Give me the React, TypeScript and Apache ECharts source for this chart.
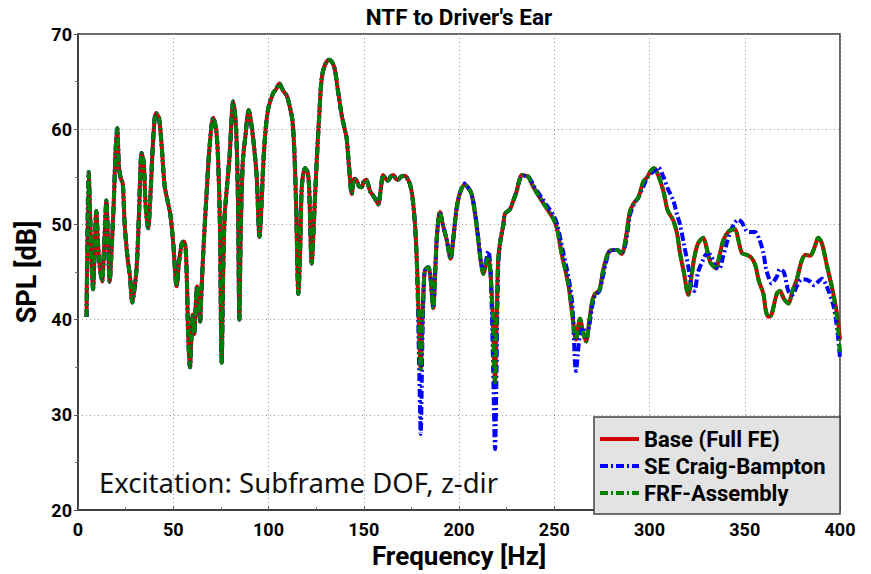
import React, { useEffect, useRef } from "react";
import * as echarts from "echarts";

// Frequency axis samples [Hz]
const freqHz = [
  4.5, 5.6, 6.5, 7.3, 7.9, 8.7, 9.6, 10.5, 11.2, 12.6,
  13.8, 14.9, 15.8, 16.6, 17.8, 18.8, 19.8, 20.6, 21.5, 22.5,
  23.5, 24.5, 26, 27.3, 28.5, 29.5, 30.8, 32, 33.4, 34.5,
  35.5, 36.8, 38, 39.5, 40.9, 42.5, 44, 45.5, 47, 48.5,
  50, 51.8, 53, 54.5, 55.5, 56.5, 57.3, 57.8, 58.8, 59.5,
  60.2, 61, 61.8, 62.5, 63.3, 64.1, 64.8, 66, 67.5, 69,
  71, 72.5, 73.5, 74.5, 75.4, 76.3, 77, 78, 79.5, 81.5,
  83, 84, 84.7, 85.4, 86.5, 88, 89.6, 91, 92.5, 93.8,
  95.3, 96.3, 97.3, 98.5, 100, 102.5, 104, 105.7, 107, 108.5,
  109.5, 111, 112.5, 113.5, 114.5, 115.7, 116.7, 117.5, 119.2, 120.5,
  121.3, 122.7, 124, 125.3, 126.5, 127.9, 129.5, 131.9, 133.5, 134.8,
  136.5, 138.4, 140, 141, 142.3, 143.7, 145, 146.3, 147.5, 148.9,
  150, 151.2, 152.3, 153.3, 155, 156.5, 157.6, 158.8, 160.2, 161.5,
  162.8, 164, 165.5, 166.8, 168.1, 169.5, 171.6, 173, 174.3, 175.5,
  // tail
  176.9, 178, 179.2, 179.9, 180.8, 181.6, 182.2, 183.9, 185, 186.5,
  187.5, 188.5, 190, 191.5, 193.5, 195.6, 197, 198.7, 200.5, 203.1,
  205, 206.6, 208.5, 210.1, 211.5, 212.8, 214, 215.4, 216.5, 217.8,
  218.9, 219.8, 220.5, 221.5, 223.3, 224.1, 226.8, 228.5, 230.3, 231.5,
  232.9, 235, 236.4, 238.1, 240, 243.4, 246, 249.5, 251.5, 253.9,
  257.4, 259.5, 261.4, 263.5, 265.3, 266.7, 268.5, 270, 271.4, 273.7,
  275.5, 277.5, 279, 281, 283, 285.4, 287.5, 289.8, 292, 294.1,
  296.8, 299, 300.5, 302.4, 304.5, 307.3, 309.5, 312.5, 314.5, 316,
  318, 320.4, 322, 323.5, 325.5, 328.2, 330, 332, 334.9, 336.5,
  338.5, 340.5, 342.5, 344.9, 346.5, 348.5, 351, 353, 355.4, 357.5,
  359.8, 361, 362.4, 364, 366.8, 368.5, 370.5, 372.9, 375, 377.3,
  379.9, 382, 384.3, 386.5, 388.6, 390.5, 393, 396.5, 398.5, 400,
];

// SPL [dB] where all three models coincide (4.5 – 175.5 Hz)
const splShared = [
  40.3, 55.5, 50, 45, 43.2, 47, 51.4, 48, 46, 44,
  48, 52.5, 48, 44, 48, 52.5, 58, 60.1, 56, 54.8,
  54.3, 50, 46.5, 44.5, 41.8, 43, 45.5, 51, 57.5, 56.5,
  52, 49.6, 53, 59, 61.7, 61.2, 58, 54, 52.5, 51,
  48, 43.5, 46, 48, 48.2, 47.5, 43, 38.5, 35, 38,
  40.5, 38.5, 41.5, 43.5, 42, 39.8, 43, 48, 53.2, 58,
  61.2, 60, 57, 50, 35.5, 46, 51, 53.5, 57, 62.9,
  60, 52, 40, 49, 56.5, 59.5, 62, 60.5, 58, 55,
  48.7, 52, 56.5, 60, 62.3, 63.8, 64.2, 64.8, 64.3, 63.8,
  63.6, 62.5, 61, 58, 52, 42.7, 48, 54, 55.9, 55.5,
  54, 45.9, 51, 56.6, 61, 65.3, 66.7, 67.3, 67, 66.3,
  64, 61.5, 60, 59.1, 56, 53.2, 54.8, 54.6, 54, 53.9,
  54.5, 54.7, 54.2, 53.5, 53, 52.5, 52.1, 53.5, 55.2, 54.8,
  54.6, 55, 55.2, 54.8, 54.7, 55, 55.1, 54.8, 54.2, 53,
];

// Base (Full FE), 176.9 – 400 Hz
const splBaseTail = [
  50, 45.5, 38, 34.8, 40, 44, 45.2, 45.5, 44.5, 41.2,
  45, 49, 51.3, 50, 48.4, 46.4, 48.5, 51.6, 53.3, 54.2,
  53.8, 53.2, 51, 48.4, 46, 44.8, 45.6, 46.6, 45, 40,
  33.4, 40, 46, 48, 50, 51.1, 51.6, 52.5, 53.5, 54.5,
  55.2, 55.1, 55, 54.3, 53.6, 52.5, 51.7, 50.6, 49.5, 46.9,
  43.7, 40.5, 37.9, 40.1, 38.5, 37.7, 40, 42, 42.7, 43.1,
  45, 46.6, 47.2, 47.3, 47.3, 46.9, 48.5, 51.4, 52.3, 52.8,
  54.5, 55, 55.6, 55.9, 55.2, 53.5, 51.5, 50.4, 49, 47,
  45, 42.6, 44.5, 46.5, 48, 48.6, 47.5, 46, 45.4, 46.5,
  48.2, 49, 49.4, 49.5, 48.5, 47, 46.8, 46.6, 45.8, 44,
  42.7, 41, 40.3, 40.5, 42.7, 43, 42.2, 41.7, 43, 44.2,
  46.2, 46.8, 46.7, 47.5, 48.6, 48, 45.8, 42.7, 40.5, 37.9,
];

// SE Craig-Bampton, 176.9 – 400 Hz
const splSETail = [
  50, 45, 34, 28, 38, 44, 45.2, 45.5, 44.5, 41.2,
  45, 49, 51.3, 50, 48.4, 46.4, 48.5, 51.6, 53.3, 54.3,
  53.8, 53.2, 51.2, 48.6, 46.2, 45, 46, 47.2, 45.5, 36,
  26.4, 36, 45, 48, 50, 51.1, 51.6, 52.5, 53.5, 54.5,
  55, 55.1, 55, 54.5, 53.8, 52.8, 52, 51, 50, 47.8,
  44.5, 41.5, 34.6, 38.5, 39.2, 38.2, 39.5, 41.5, 42.5, 43,
  44.5, 46.3, 47.2, 47.3, 47.3, 47, 48, 51, 52.2, 52.8,
  54, 55, 55.3, 55.6, 56, 55, 53.8, 52.5, 51, 50,
  48, 45.5, 43.5, 43, 45, 46.3, 46.9, 46.8, 45.5, 45.3,
  46.5, 48, 49.3, 50.2, 50.5, 50.2, 49.3, 49.2, 49.2, 48.5,
  47, 45.5, 44.5, 43.8, 44.5, 45.3, 45, 43, 42.6, 43.5,
  44.2, 44.2, 44, 43.6, 44, 44.3, 43.5, 41.5, 39, 36,
];

// FRF-Assembly, 176.9 – 400 Hz
const splFRFTail = [
  50, 45.5, 38, 34.8, 40, 44, 45.2, 45.5, 44.5, 41.2,
  45, 49, 51.3, 50, 48.4, 46.4, 48.5, 51.6, 53.3, 54.2,
  53.8, 53.2, 51, 48.4, 46, 44.8, 45.6, 46.6, 45, 40,
  33.4, 40, 46, 48, 50, 51.1, 51.6, 52.5, 53.5, 54.5,
  55.2, 55.1, 55, 54.3, 53.6, 52.5, 51.7, 50.6, 49.5, 46.9,
  43.7, 40.5, 37.9, 40.1, 38.5, 37.7, 40, 42, 42.7, 43.1,
  45, 46.6, 47.2, 47.3, 47.3, 46.9, 48.5, 51.4, 52.3, 52.8,
  54.5, 55, 55.6, 55.9, 55.2, 53.5, 51.5, 50.4, 49, 47,
  45, 42.6, 44.5, 46.5, 48, 48.6, 47.5, 46, 45.4, 46.5,
  48.2, 49, 49.4, 49.5, 48.5, 47, 46.8, 46.6, 45.8, 44,
  42.7, 41, 40.3, 40.5, 42.7, 43, 42.2, 41.7, 43, 44.2,
  46.2, 46.8, 46.7, 47.5, 48.6, 48, 45.8, 42.7, 40, 36.5,
];

const seriesNames = ["Base (Full FE)", "SE Craig-Bampton", "FRF-Assembly"];
const seriesColors = ["#d00000", "#0000ff", "#008000"];

const splBase = [...splShared, ...splBaseTail];
const splSE = [...splShared, ...splSETail];
const splFRF = [...splShared, ...splFRFTail];

const toPairs = (ys: number[]) => freqHz.map((f, i) => [f, ys[i]]);

export default function App() {
  const ref = useRef<HTMLDivElement>(null);
  useEffect(() => {
    if (!ref.current) return;
    const chart = echarts.init(ref.current, null, { renderer: "svg" });
    const dashDot = [8, 3, 2, 3];
    const mkSeries = (idx: number, ys: number[], dashed: boolean) => ({
      name: seriesNames[idx],
      type: "line",
      data: toPairs(ys),
      showSymbol: false,
      symbol: "none",
      smooth: 0.3,
      z: 2 + idx,
      lineStyle: {
        color: seriesColors[idx],
        width: 4,
        type: dashed ? dashDot : "solid",
      },
      itemStyle: { color: seriesColors[idx] },
    });
    const axisLabel = { fontFamily: "Roboto", fontWeight: "bold", fontSize: 18, color: "#000" };
    const nameStyle = { fontFamily: "Roboto", fontWeight: "bold", fontSize: 26, color: "#000" };
    chart.setOption({
      animation: false,
      backgroundColor: "#ffffff",
      grid: {
        left: 78,
        right: 31,
        top: 34,
        bottom: 60,
        show: true,
        borderColor: "#333",
        borderWidth: 1.5,
        backgroundColor: "transparent",
      },
      xAxis: {
        type: "value",
        min: 0,
        max: 400,
        interval: 50,
        name: "Frequency [Hz]",
        nameLocation: "middle",
        nameGap: 33,
        nameTextStyle: nameStyle,
        axisLine: { show: true, lineStyle: { color: "#333", width: 1.5 } },
        axisTick: { show: true, inside: true, length: 4, lineStyle: { color: "#555" } },
        minorTick: { show: true, splitNumber: 2, length: 3, lineStyle: { color: "#777" } },
        axisLabel: { ...axisLabel, margin: 10 },
        splitLine: { show: true, lineStyle: { color: "#999", type: [1, 3], width: 1 } },
      },
      yAxis: {
        type: "value",
        min: 20,
        max: 70,
        interval: 10,
        name: "SPL [dB]",
        nameLocation: "middle",
        nameGap: 36,
        nameRotate: 90,
        nameTextStyle: { ...nameStyle, fontSize: 27 },
        axisLine: { show: true, lineStyle: { color: "#333", width: 1.5 } },
        axisTick: { show: true, inside: false, length: 4, lineStyle: { color: "#555" } },
        minorTick: { show: true, splitNumber: 2, length: 3, lineStyle: { color: "#777" } },
        axisLabel: { ...axisLabel, margin: 6 },
        splitLine: { show: true, lineStyle: { color: "#999", type: [1, 3], width: 1 } },
      },
      legend: {
        show: true,
        orient: "vertical",
        left: 598,
        top: 428,
        padding: 0,
        itemGap: 5,
        itemWidth: 39,
        itemHeight: 14,
        z: 20,
        data: seriesNames,
        itemStyle: { opacity: 0 },
        lineStyle: { width: 4 },
        textStyle: { fontFamily: "Roboto", fontWeight: "bold", fontSize: 22, color: "#000", lineHeight: 22 },
      },
      graphic: [
        {
          type: "text",
          x: 459,
          y: 5,
          style: {
            text: "NTF to Driver's Ear",
            font: 'bold 22.5px "Roboto", sans-serif',
            fill: "#000",
            textAlign: "center",
            textVerticalAlign: "top",
          },
        },
        {
          type: "text",
          x: 99,
          y: 482,
          z: 5,
          style: {
            text: "Excitation: Subframe DOF, z-dir",
            font: '27.5px "Noto Sans", sans-serif',
            fill: "#111",
            textVerticalAlign: "middle",
          },
        },
        {
          type: "rect",
          z: 10,
          shape: { x: 594, y: 417, width: 246, height: 97 },
          style: { fill: "#e3e3e3", stroke: "#444", lineWidth: 1.5 },
        },
      ],
      series: [
        mkSeries(0, splBase, false),
        mkSeries(1, splSE, true),
        mkSeries(2, splFRF, true),
      ],
    });
    return () => chart.dispose();
  }, []);
  return (
    <div
      ref={ref}
      style={{ position: "fixed", left: 0, top: 0, width: 871, height: 574 }}
    />
  );
}
